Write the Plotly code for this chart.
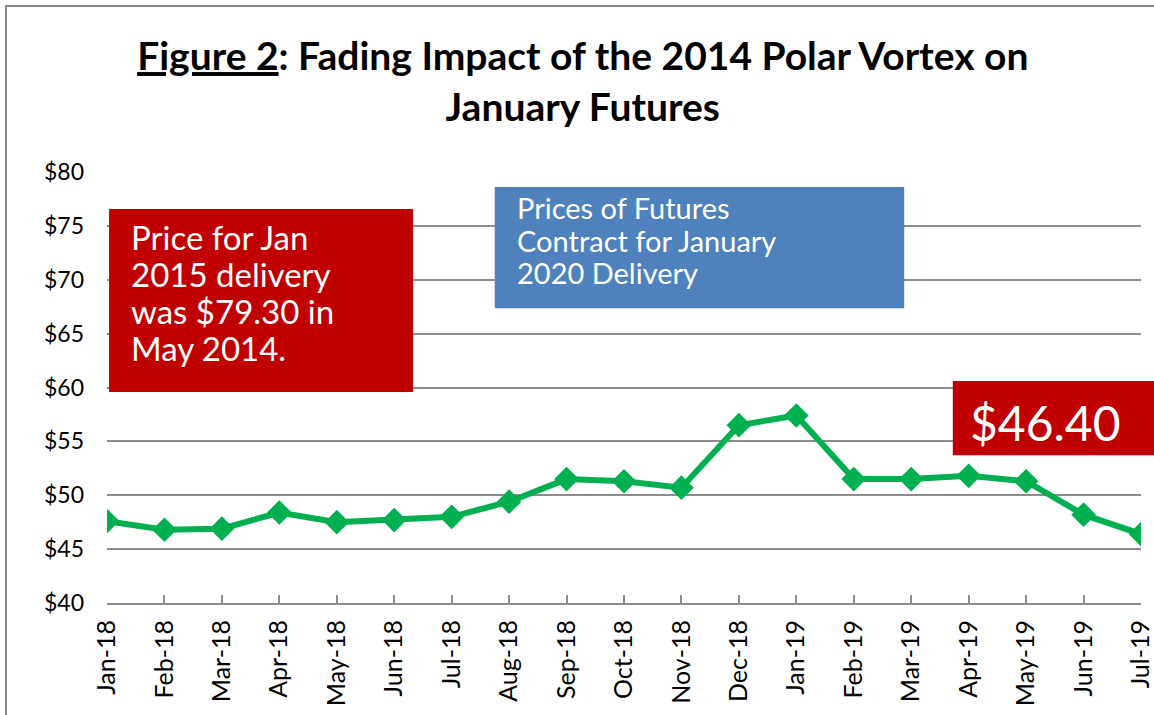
import plotly.graph_objects as go

# ── data ────────────────────────────────────────────────────────────────
months = ["Jan-18", "Feb-18", "Mar-18", "Apr-18", "May-18", "Jun-18", "Jul-18",
          "Aug-18", "Sep-18", "Oct-18", "Nov-18", "Dec-18", "Jan-19", "Feb-19",
          "Mar-19", "Apr-19", "May-19", "Jun-19", "Jul-19"]
prices = [47.6, 46.8, 46.9, 48.4, 47.5, 47.7, 48.0, 49.4, 51.5, 51.3, 50.7,
          56.5, 57.4, 51.5, 51.5, 51.8, 51.3, 48.2, 46.4]
y_ticks = [40, 45, 50, 55, 60, 65, 70, 75, 80]
y_labels = [f"${v}" for v in y_ticks]

FONT = "Lato"
GRID = "#8c8c8c"
RED = "#C00000"
BLUE = "#4F81BD"
GREEN = "#00B050"

fig = go.Figure(go.Scatter(
    x=months,
    y=prices,
    mode="lines+markers",
    line=dict(color=GREEN, width=6),
    marker=dict(symbol="diamond", size=19, color=GREEN),
    hovertemplate="%{x}: $%{y:.2f}<extra></extra>",
))

fig.update_layout(
    width=1154,
    height=715,
    paper_bgcolor="white",
    plot_bgcolor="white",
    margin=dict(l=107, r=13, t=172, b=112),
    showlegend=False,
    font=dict(family=FONT, color="black"),
    title=dict(
        text="<b><u>Figure 2</u>: Fading Impact of the 2014 Polar Vortex on<br>January Futures</b>",
        x=0.505, xanchor="center", xref="container",
        y=0.902, yanchor="middle", yref="container",
        font=dict(family=FONT, size=39, color="black"),
    ),
    xaxis=dict(
        type="category",
        range=[0, len(months) - 1],
        automargin=False,
        tickangle=-90,
        tickfont=dict(size=25),
        showgrid=False,
        showline=True, linecolor=GRID, linewidth=2,
        ticks="inside", ticklen=8, tickcolor=GRID, tickwidth=2,
        ticklabelstandoff=5,
        zeroline=False,
    ),
    yaxis=dict(
        range=[40, 80],
        automargin=False,
        tickvals=y_ticks,
        ticktext=y_labels,
        tickfont=dict(size=23),
        showgrid=True, gridcolor=GRID, gridwidth=2,
        showline=False, zeroline=False,
        ticks="", ticklabelstandoff=22,
    ),
)

# outer chart frame
fig.add_shape(type="rect", xref="paper", yref="paper",
              x0=-0.0977, x1=1.2, y0=-0.6, y1=1.385,
              line=dict(color="#888888", width=2), fillcolor="rgba(0,0,0,0)")

# annotation boxes
fig.add_shape(type="rect", xref="paper", yref="paper",
              x0=0.002, x1=0.296, y0=0.4896, y1=0.914,
              line=dict(width=0), fillcolor=RED)
fig.add_shape(type="rect", xref="paper", yref="paper",
              x0=0.375, x1=0.771, y0=0.684, y1=0.965,
              line=dict(width=0), fillcolor=BLUE)
fig.add_shape(type="rect", xref="paper", yref="paper",
              x0=0.818, x1=1.05, y0=0.343, y1=0.515,
              line=dict(width=0), fillcolor=RED)

red_lines = ["Price for Jan", "2015 delivery", "was $79.30 in", "May 2014."]
for line, yy in zip(red_lines, [0.8492, 0.7633, 0.6775, 0.5916]):
    fig.add_annotation(xref="paper", yref="paper", x=0.0213, y=yy,
                       xanchor="left", yanchor="middle", showarrow=False,
                       text=line, font=dict(family=FONT, size=33, color="white"))

blue_lines = ["Prices of Futures", "Contract for January", "2020 Delivery"]
for line, yy in zip(blue_lines, [0.9165, 0.8411, 0.7657]):
    fig.add_annotation(xref="paper", yref="paper", x=0.3946, y=yy,
                       xanchor="left", yanchor="middle", showarrow=False,
                       text=line, font=dict(family=FONT, size=29, color="white"))

fig.add_annotation(xref="paper", yref="paper", x=0.9081, y=0.4188,
                   xanchor="center", yanchor="middle", showarrow=False,
                   text="$46.40", font=dict(family=FONT, size=48, color="white"))

# page body has a default 8px margin; remove it so the chart sits at 0,0
fig.write_html("out.html", config={"displayModeBar": False},
               post_script="document.body.style.margin='0px';")
